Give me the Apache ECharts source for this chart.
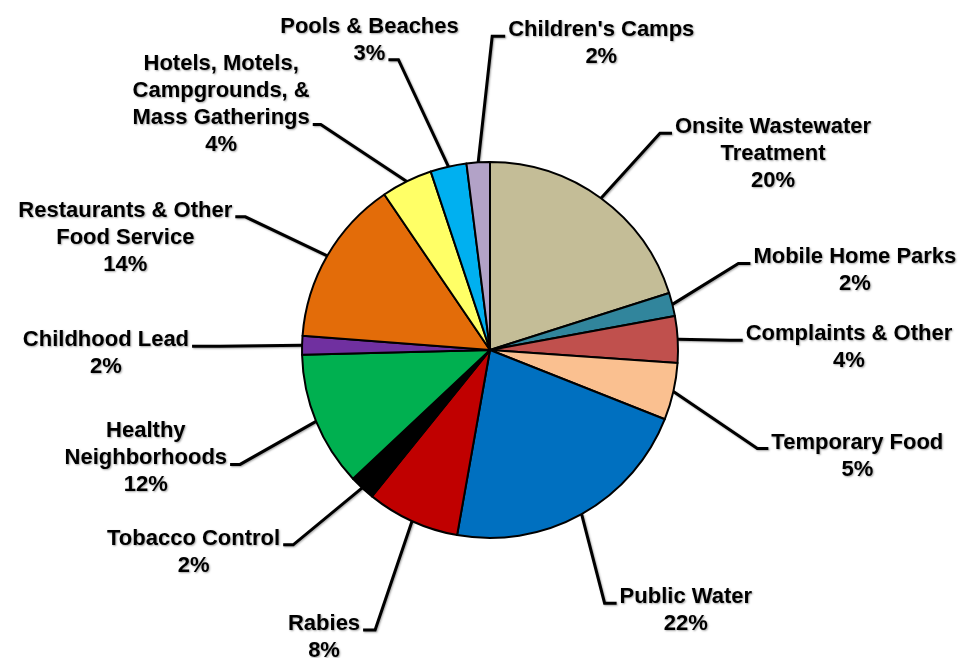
<!DOCTYPE html>
<html>
<head>
<meta charset="utf-8">
<script src="https://cdn.jsdelivr.net/npm/echarts@6/dist/echarts.min.js"></script>
<style>
  html, body { margin: 0; background: #fff; }
  #main { width: 966px; height: 658px; }
</style>
</head>
<body>
<div id="main"></div>
<script>
var categories = [
  "Onsite Wastewater\nTreatment",
  "Mobile Home Parks",
  "Complaints & Other",
  "Temporary Food",
  "Public Water",
  "Rabies",
  "Tobacco Control",
  "Healthy\nNeighborhoods",
  "Childhood Lead",
  "Restaurants & Other\nFood Service",
  "Hotels, Motels,\nCampgrounds, &\nMass Gatherings",
  "Pools & Beaches",
  "Children's Camps"
];
var shares = [20.1, 2.0, 4.0, 4.9, 21.8, 8.0, 2.2, 11.6, 1.6, 14.3, 4.4, 3.1, 2.0];
var sliceColors = [
  "#c4bd97", "#31859c", "#c0504d", "#fac090", "#0070c0", "#c00000", "#000000",
  "#00b050", "#7030a0", "#e36c09", "#ffff66", "#00b0f0", "#b2a2c7"
];

// leader line per label: elbow offset from slice edge (dx, dy), horizontal run, text line it joins
var leaders = [
  [59, -65, 12, 0],
  [66, -41, 12, 0],
  [52, 1, 13, 0],
  [84, 57, 11, 0],
  [23, 89, 12, 0],
  [-37, 109, -12, 0],
  [-69, 57, -10, 0],
  [-76, 43, -10, 1],
  [-82, 1, -28, 0],
  [-82, -39, -10, 0],
  [-86, -57, -8, 2],
  [-50, -107, -10, 1],
  [14, -126, 13, 0]
];

var cx = 490, cy = 350, R = 188;
var FONT = 22, LH = 27, FAMILY = "Liberation Sans";

var total = shares.reduce(function (a, b) { return a + b; }, 0);
var midAngles = [];
var acc = 0;
shares.forEach(function (v) {
  midAngles.push((acc + v / 2) / total * 2 * Math.PI);
  acc += v;
});

var ctx = document.createElement("canvas").getContext("2d");
ctx.font = "bold " + FONT + "px \"" + FAMILY + "\"";

function labelText(i) {
  return categories[i] + "\n" + Math.round(shares[i]) + "%";
}

var chart = echarts.init(document.getElementById("main"));
chart.setOption({
  animation: false,
  backgroundColor: "#fff",
  series: [{
    type: "pie",
    center: [cx, cy],
    radius: R,
    startAngle: 90,
    clockwise: true,
    data: categories.map(function (c, i) {
      return { name: c, value: shares[i], itemStyle: { color: sliceColors[i] } };
    }),
    itemStyle: { borderColor: "#000", borderWidth: 2 },
    emphasis: { disabled: true },
    label: {
      formatter: function (p) { return labelText(p.dataIndex); },
      fontFamily: FAMILY,
      fontWeight: "bold",
      fontSize: FONT,
      lineHeight: LH,
      color: "#000",
      textShadowColor: "rgba(0,0,0,0.35)",
      textShadowBlur: 2,
      textShadowOffsetX: 1,
      textShadowOffsetY: 1
    },
    labelLine: {
      show: true,
      lineStyle: {
        color: "#000", width: 3,
        shadowColor: "rgba(0,0,0,0.35)", shadowBlur: 2, shadowOffsetX: 1, shadowOffsetY: 1
      }
    },
    labelLayout: function (p) {
      var i = p.dataIndex, L = leaders[i], a = midAngles[i];
      var x0 = cx + R * Math.sin(a), y0 = cy - R * Math.cos(a);
      var x1 = x0 + L[0], y1 = y0 + L[1], x2 = x1 + L[2];
      var lines = labelText(i).split("\n");
      var w = ctx.measureText(lines[L[3]]).width;
      var side = L[2] > 0 ? 1 : -1;
      return {
        x: x2 + side * (3 + w / 2),
        y: y1 - 6 - LH * (L[3] + 0.5),
        align: "center",
        verticalAlign: "top",
        labelLinePoints: [[x0, y0], [x1, y1], [x2, y1]]
      };
    }
  }]
});
</script>
</body>
</html>
